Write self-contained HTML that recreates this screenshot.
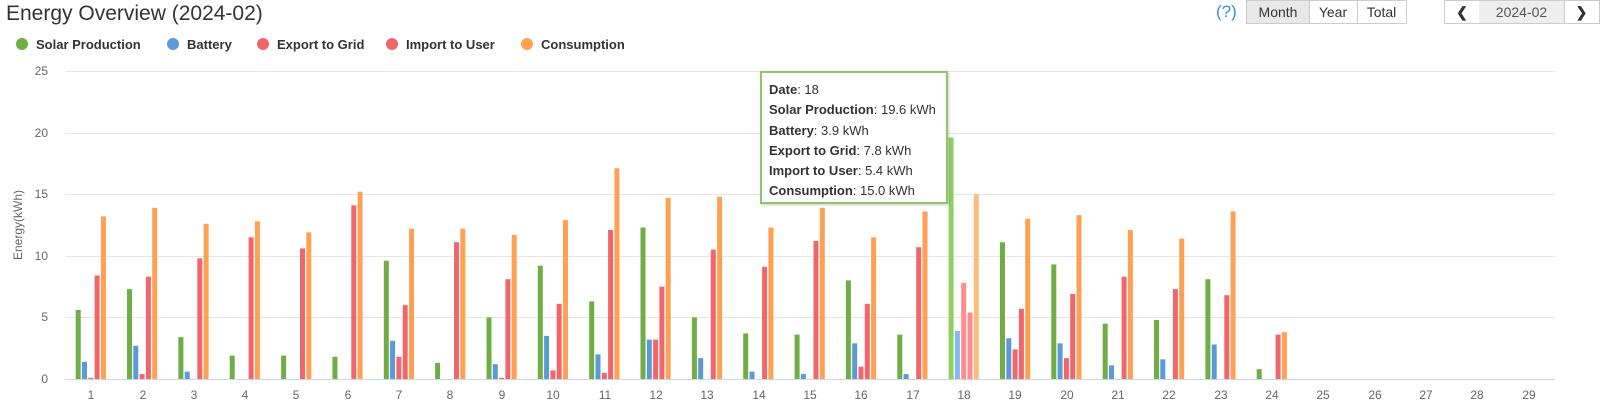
<!DOCTYPE html>
<html><head><meta charset="utf-8"><style>
body{margin:0;width:1600px;height:417px;background:#fff;font-family:"Liberation Sans",sans-serif;position:relative;overflow:hidden}
.t{position:absolute;left:6px;top:2px;font-size:21px;color:#333}
.leg{position:absolute;top:37px;font-size:13px;font-weight:bold;color:#333}
.leg i{display:inline-block;width:12px;height:12px;border-radius:50%;margin-right:8px;vertical-align:-1px}
.btn{position:absolute;top:0;height:24px;border:1px solid #ccc;font-size:14px;color:#333;line-height:22px;text-align:center;box-sizing:border-box}
.tip{position:absolute;left:760px;top:71px;width:188px;height:133px;border:2px solid #8cc66c;background:rgba(255,255,255,.95);box-sizing:border-box;font-size:13px;color:#333;padding:7px 0 0 7px;line-height:20.3px;box-shadow:1px 1px 3px rgba(0,0,0,.2)}
</style></head><body>
<div class="t">Energy Overview (2024-02)</div>
<div class="leg" style="left:16px"><i style="background:#6fae45"></i>Solar Production</div>
<div class="leg" style="left:167px"><i style="background:#5b9bd5"></i>Battery</div>
<div class="leg" style="left:257px"><i style="background:#f0666a"></i>Export to Grid</div>
<div class="leg" style="left:386px"><i style="background:#f0666a"></i>Import to User</div>
<div class="leg" style="left:521px"><i style="background:#ffa052"></i>Consumption</div>
<div style="position:absolute;left:1216px;top:2px;font-size:17px;color:#3a8ee0">(?)</div>
<div class="btn" style="left:1246px;width:64px;background:#e8e8e8">Month</div>
<div class="btn" style="left:1309px;width:49px;border-left:none">Year</div>
<div class="btn" style="left:1357px;width:50px;border-left:none">Total</div>
<div class="btn" style="left:1444px;width:36px;font-weight:bold">&#10094;</div>
<div class="btn" style="left:1479px;width:86px;background:#eee;border-left:none;color:#555">2024-02</div>
<div class="btn" style="left:1564px;width:36px;border-left:none;font-weight:bold">&#10095;</div>
<svg width="1600" height="417" style="position:absolute;left:0;top:0" font-family="Liberation Sans, sans-serif">
<g stroke="#e6e6e6" stroke-width="1">
<line x1="65" x2="1555" y1="71.5" y2="71.5"/><line x1="65" x2="1555" y1="133.5" y2="133.5"/><line x1="65" x2="1555" y1="194.5" y2="194.5"/><line x1="65" x2="1555" y1="256.5" y2="256.5"/><line x1="65" x2="1555" y1="317.5" y2="317.5"/>
</g>
<line x1="65" x2="1555" y1="379.5" y2="379.5" stroke="#ccd6eb"/>
<g font-size="12" fill="#666" text-anchor="end">
<text x="48" y="75">25</text><text x="48" y="137">20</text><text x="48" y="198">15</text><text x="48" y="260">10</text><text x="48" y="321">5</text><text x="48" y="383">0</text>
</g>
<text transform="translate(22,225) rotate(-90)" font-size="12" fill="#666" text-anchor="middle">Energy(kWh)</text>
<g id="bars"></g>
<g font-size="12" fill="#666" text-anchor="middle">
<text x="91" y="399">1</text><text x="143" y="399">2</text><text x="194" y="399">3</text><text x="245" y="399">4</text><text x="296" y="399">5</text><text x="348" y="399">6</text><text x="399" y="399">7</text><text x="450" y="399">8</text><text x="502" y="399">9</text><text x="553" y="399">10</text><text x="605" y="399">11</text><text x="656" y="399">12</text><text x="707" y="399">13</text><text x="759" y="399">14</text><text x="810" y="399">15</text><text x="861" y="399">16</text><text x="913" y="399">17</text><text x="964" y="399">18</text><text x="1015" y="399">19</text><text x="1067" y="399">20</text><text x="1118" y="399">21</text><text x="1169" y="399">22</text><text x="1221" y="399">23</text><text x="1272" y="399">24</text><text x="1323" y="399">25</text><text x="1375" y="399">26</text><text x="1426" y="399">27</text><text x="1477" y="399">28</text><text x="1529" y="399">29</text>
</g>
</svg>
<div class="tip"><b>Date</b>: 18<br><b>Solar Production</b>: 19.6 kWh<br><b>Battery</b>: 3.9 kWh<br><b>Export to Grid</b>: 7.8 kWh<br><b>Import to User</b>: 5.4 kWh<br><b>Consumption</b>: 15.0 kWh</div>
<script>
var d=[[5.6,1.4,0.1,8.4,13.2],[7.3,2.7,0.4,8.3,13.9],[3.4,0.6,0,9.8,12.6],[1.9,0,0,11.5,12.8],[1.9,0,0,10.6,11.9],[1.8,0,0,14.1,15.2],[9.6,3.1,1.8,6.0,12.2],[1.3,0,0,11.1,12.2],[5.0,1.2,0.1,8.1,11.7],[9.2,3.5,0.7,6.1,12.9],[6.3,2.0,0.5,12.1,17.1],[12.3,3.2,3.2,7.5,14.7],[5.0,1.7,0,10.5,14.8],[3.7,0.6,0,9.1,12.3],[3.6,0.4,0,11.2,13.9],[8.0,2.9,1.0,6.1,11.5],[3.6,0.4,0,10.7,13.6],[19.6,3.9,7.8,5.4,15.0],[11.1,3.3,2.4,5.7,13.0],[9.3,2.9,1.7,6.9,13.3],[4.5,1.1,0,8.3,12.1],[4.8,1.6,0,7.3,11.4],[8.1,2.8,0,6.8,13.6],[0.8,0,0,3.6,3.8]];
var c=['#6fae45','#5b9bd5','#f0666a','#f0666a','#ffa052'],ch=['#8fd060','#7fbaf0','#ff8c8f','#ff8c8f','#ffbb7a'];
var s='';d.forEach(function(r,i){var cx=65+51.35*(i+0.5);r.forEach(function(v,j){if(v<=0)return;var h=v*12.32,x=cx-15+j*6.3;s+='<rect x="'+x.toFixed(1)+'" y="'+(379-h).toFixed(1)+'" width="5" height="'+h.toFixed(1)+'" fill="'+(i==17?ch[j]:c[j])+'"/>';});});
document.getElementById('bars').innerHTML=s;
</script>
</body></html>
